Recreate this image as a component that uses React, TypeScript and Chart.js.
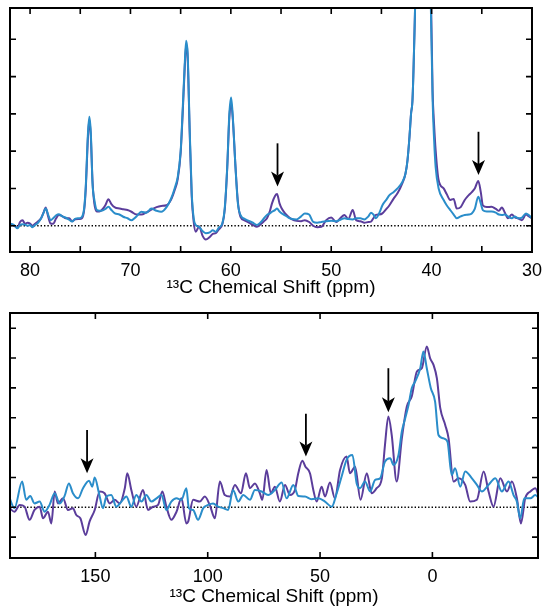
import React, { useEffect, useRef } from 'react';
import { Chart, registerables } from 'chart.js';

Chart.register(...registerables);

const FONT = '"Liberation Sans", Arial, Helvetica, sans-serif';
const PURPLE = '#5b3d9b';
const BLUE = '#2a8dca';
const AXIS_TITLE = '¹³C Chemical Shift (ppm)';

// ---------- top panel (82 – 30 ppm) ----------
const topPpm = [
  82.0, 81.6, 81.25, 81.0, 80.75, 80.5, 80.26, 80.0, 79.77, 79.5, 79.27, 78.9, 78.65, 78.45, 78.2, 77.96,
  77.7, 77.4, 77.14, 76.8, 76.48, 76.1, 75.82, 75.49, 75.1, 74.83, 74.6, 74.44, 74.25, 74.1, 73.95, 73.78,
  73.6, 73.35, 73.1, 72.86, 72.5, 72.2, 71.9, 71.55, 71.1, 70.72, 70.3, 69.9, 69.4, 68.91, 68.4, 67.92,
  67.4, 66.94, 66.4, 65.95, 65.6, 65.29, 65.0, 64.8, 64.6, 64.45, 64.3, 64.1, 63.9, 63.7, 63.5, 63.16,
  62.8, 62.5, 62.1, 61.8, 61.5, 61.2, 60.85, 60.6, 60.36, 60.15, 59.97, 59.8, 59.54, 59.3, 59.04, 58.6,
  58.2, 57.8, 57.4, 57.0, 56.7, 56.4, 56.1, 55.9, 55.6, 55.4, 55.15, 54.93, 54.6, 54.27, 53.9, 53.45,
  53.0, 52.63, 52.2, 51.8, 51.4, 50.98, 50.5, 50.0, 49.5, 49.1, 48.68, 48.3, 47.86, 47.52, 47.1, 46.7,
  46.3, 46.04, 45.8, 45.55, 45.2, 44.9, 44.5, 44.2, 43.8, 43.4, 42.9, 42.6, 42.4, 42.2, 42.05, 41.9,
  41.65, 41.4, 41.1, 40.85, 40.6, 40.3, 40.07, 39.9, 39.75, 39.6, 39.3, 38.8, 38.5, 38.14, 37.8, 37.5,
  37.1, 36.7, 36.3, 36.0, 35.7, 35.35, 35.1, 34.9, 34.5, 34.03, 33.6, 33.3, 33.0, 32.7, 32.4, 32.0,
  31.7, 31.4, 31.0, 30.6, 30.3, 30.0,
];
const topBlue = [
  0.06, 0.02, -0.07, 0.02, 0.04, 0.03, 0.0, 0.02, -0.04, 0.02, 0.06, 0.2, 0.35, 0.46, 0.3, 0.15,
  0.2, 0.28, 0.31, 0.25, 0.22, 0.16, 0.11, 0.19, 0.2, 0.24, 0.5, 1.13, 2.4, 2.92, 2.5, 1.13,
  0.7, 0.42, 0.4, 0.4, 0.45, 0.51, 0.42, 0.33, 0.3, 0.24, 0.2, 0.15, 0.25, 0.375, 0.35, 0.46,
  0.4, 0.375, 0.5, 0.73, 1.0, 1.31, 2.0, 3.1, 4.3, 4.96, 4.6, 2.6, 0.9, 0.2, 0.02, -0.03,
  -0.15, -0.2, -0.18, -0.12, -0.16, -0.05, 0.06, 0.5, 1.58, 3.0, 3.44, 2.9, 1.58, 0.6, 0.29, 0.18,
  0.13, 0.08, 0.02, 0.1, 0.2, 0.29, 0.33, 0.375, 0.42, 0.46, 0.38, 0.33, 0.28, 0.22, 0.18, 0.17,
  0.25, 0.33, 0.3, 0.1, 0.08, 0.1, 0.12, 0.13, 0.12, 0.16, 0.2, 0.18, 0.17, 0.2, 0.2, 0.17,
  0.25, 0.35, 0.3, 0.2, 0.35, 0.55, 0.7, 0.82, 0.9, 1.0, 1.18, 1.4, 1.76, 2.4, 3.0, 3.4,
  5.8, 9, 14, 18, 12, 7.5, 5.8, 3.37, 2.3, 1.58, 1.0, 0.69, 0.55, 0.42, 0.3, 0.2,
  0.25, 0.29, 0.3, 0.33, 0.45, 0.78, 0.6, 0.42, 0.38, 0.38, 0.35, 0.3, 0.29, 0.3, 0.25, 0.2,
  0.25, 0.2, 0.22, 0.33, 0.28, 0.2,
];
const topPurple = [
  0.05, 0.0, -0.05, 0.1, 0.15, 0.05, 0.08, 0.06, 0.0, 0.05, 0.1, 0.2, 0.36, 0.49, 0.25, 0.06,
  0.05, 0.2, 0.29, 0.26, 0.2, 0.2, 0.12, 0.17, 0.18, 0.2, 0.45, 1.05, 2.3, 2.85, 2.4, 1.2,
  0.6, 0.38, 0.38, 0.42, 0.55, 0.71, 0.58, 0.49, 0.46, 0.44, 0.42, 0.375, 0.3, 0.3, 0.36, 0.43,
  0.5, 0.53, 0.55, 0.7, 0.95, 1.25, 1.95, 3.0, 4.2, 4.85, 4.5, 2.5, 0.8, 0.1, -0.16, -0.02,
  -0.28, -0.37, -0.3, -0.22, -0.2, -0.1, 0.04, 0.45, 1.55, 2.9, 3.3, 2.85, 1.6, 0.65, 0.24, 0.14,
  0.08, 0.02, -0.03, 0.05, 0.12, 0.2, 0.4, 0.6, 0.8, 0.85, 0.6, 0.46, 0.33, 0.24, 0.17, 0.13,
  0.12, 0.15, 0.1, 0.0, -0.04, -0.03, 0.15, 0.22, 0.1, 0.2, 0.29, 0.18, 0.42, 0.15, 0.12, 0.08,
  0.1, 0.11, 0.2, 0.29, 0.3, 0.33, 0.45, 0.55, 0.72, 0.87, 1.15, 1.4, 1.76, 2.4, 3.0, 3.4,
  5.8, 9, 14, 18, 12.5, 8, 6.2, 3.6, 2.7, 2.03, 1.22, 1.0, 0.85, 0.69, 0.72, 0.46,
  0.5, 0.69, 0.82, 0.9, 1.0, 1.2, 0.9, 0.55, 0.5, 0.51, 0.45, 0.4, 0.49, 0.35, 0.2, 0.3,
  0.22, 0.2, 0.15, 0.3, 0.25, 0.2,
];
const topTicks = [80, 70, 60, 50, 40, 30];
const topArrowPpm = [55.35, 35.33];
const topArrowTail = [2.21, 2.52];
const topArrowTip = [1.05, 1.36];

// ---------- bottom panel (188 – -47 ppm) ----------
const botBluePpm = [
  188.2, 186.0, 182.6, 180.8, 179.0, 177.1, 174.8, 172.6, 170.4, 168.1, 165.9, 163.7, 161.8, 160.0, 157.7, 155.5,
  152.8, 151.4, 150.3, 148.4, 146.6, 145.1, 142.9, 140.7, 138.4, 136.2, 134.0, 131.8, 129.5, 127.3, 125.1, 122.8,
  120.6, 118.4, 116.2, 113.9, 111.7, 109.5, 108.4, 106.5, 104.3, 102.0, 99.8, 97.6, 95.3, 93.1, 90.9, 88.7,
  86.4, 84.2, 81.2, 79.0, 76.0, 73.1, 70.1, 67.1, 64.9, 61.9, 59.7, 56.7, 53.8, 50.8, 47.8, 44.8,
  42.6, 40.4, 38.2, 35.6, 33.7, 32.2, 30.0, 27.7, 25.5, 23.3, 21.1, 18.8, 17.3, 15.1, 13.6, 12.1,
  10.6, 9.2, 7.7, 5.4, 4.0, 2.5, 0.7, -1.2, -2.7, -4.9, -6.7, -8.6, -10.1, -12.4, -14.6, -17.6,
  -19.8, -22.0, -25.0, -28.0, -30.9, -33.9, -36.1, -37.6, -39.1, -40.9, -43.6, -45.8, -47.6,
];
const botBlue = [
  0.3, -0.03, 0.86, 0.25, 0.38, 0.13, 0.19, -0.15, 0.08, 0.47, 0.13, 0.38, 0.8, 0.47, 0.3, 0.64,
  0.89, 0.69, 1.0, 0.47, -0.03, 0.36, 0.41, 0.02, 0.19, 0.36, 0.02, 0.41, 0.19, 0.41, 0.19, 0.3,
  0.41, -0.09, 0.19, 0.3, 0.25, 0.64, -0.03, -0.09, -0.42, -0.03, 0.08, 0.13, 0.02, -0.03, -0.09, 0.58,
  0.19, 0.41, 0.25, 0.58, 0.53, 0.41, 0.58, 0.83, 0.3, 0.75, 0.38, 0.36, 0.27, 0.3, 0.19, 0.02,
  0.47, 1.03, 1.59, 1.75, 0.8, 0.64, 0.86, 0.53, 0.92, 0.97, 1.53, 1.64, 1.42, 1.75, 2.54, 2.98,
  3.43, 3.99, 4.21, 4.66, 5.22, 4.66, 3.99, 3.54, 2.42, 2.31, 2.2, 1.08, 1.31, 0.69, 1.2, 0.97,
  0.75, 0.53, 0.75, 0.97, 0.53, 0.86, 0.41, 0.19, -0.37, 0.3, 0.3, 0.41, 0.3,
];
const botPurplePpm = [
  188.2, 186.0, 183.7, 181.5, 179.3, 177.1, 174.8, 173.3, 171.1, 169.6, 168.1, 166.7, 164.4, 162.2, 160.0, 158.5,
  156.7, 154.3, 152.6, 150.3, 148.1, 145.9, 143.6, 141.4, 139.2, 136.9, 135.8, 134.0, 131.8, 128.8, 126.6, 124.3,
  122.1, 120.2, 118.4, 116.2, 113.9, 111.7, 109.5, 108.7, 106.5, 103.5, 101.3, 99.1, 96.8, 94.6, 92.4, 90.1,
  87.9, 85.2, 83.0, 81.2, 79.0, 76.8, 75.7, 73.8, 71.9, 70.1, 67.9, 65.6, 63.4, 61.2, 59.7, 57.9,
  56.5, 54.5, 53.0, 51.5, 49.3, 47.8, 45.6, 43.4, 41.1, 38.2, 36.7, 34.4, 32.0, 29.2, 27.0, 24.8,
  22.5, 21.1, 19.6, 18.1, 15.9, 13.6, 11.4, 9.2, 6.9, 4.7, 2.5, 1.0, -0.5, -2.0, -3.5, -5.7,
  -7.2, -9.4, -11.6, -14.6, -16.8, -19.8, -22.8, -25.0, -27.2, -30.2, -33.2, -35.4, -37.6, -39.4, -41.3, -43.6,
  -45.8, -47.6,
];
const botPurple = [
  -0.03, -0.15, 0.08, 0.02, -0.42, -0.09, 0.02, -0.37, -0.15, -0.54, 0.53, 0.13, 0.3, -0.09, -0.03, -0.26,
  -0.37, -0.93, -0.48, -0.09, 0.53, 0.47, 0.13, 0.25, 0.13, 0.64, 1.14, 0.58, 0.02, 0.58, -0.09, 0.02,
  0.08, 0.53, 0.02, -0.42, -0.15, 0.3, -0.54, -0.48, 0.25, 0.19, 0.36, 0.08, -0.37, 0.86, 0.41, 0.36,
  0.75, 0.47, 1.14, 0.64, 0.8, 0.47, 0.25, 1.25, 0.47, 0.69, 0.19, 0.75, 0.41, 0.58, 1.14, 1.56,
  1.36, 1.14, 0.58, 0.19, 0.69, 0.36, 0.83, 0.3, 1.25, 1.7, 1.14, 1.36, 0.25, 1.14, 0.47, 0.64,
  0.97, 2.09, 3.04, 2.42, 0.86, 2.31, 3.37, 3.71, 4.55, 4.66, 5.39, 4.99, 4.77, 4.32, 3.32, 2.76,
  2.31, 0.86, 0.97, 0.75, 0.19, 0.25, 1.2, 0.53, 0.02, 0.97, 0.53, 0.86, 0.3, -0.54, 0.3, 0.53,
  0.64, 0.3,
];
const botTicks = [150, 100, 50, 0];
const botArrowPpm = [153.7, 56.3, 19.6];
const botArrowTail = [2.59, 3.13, 4.66];
const botArrowTip = [1.14, 1.7, 3.18];

const toPoints = (xs: number[], ys: number[]) => xs.map((x, i) => ({ x, y: ys[i] }));

function makeFramePlugin(arrowPpm: number[], arrowTail: number[], arrowTip: number[]) {
  return {
    id: 'frame',
    beforeDatasetsDraw(chart: any) {
      const { ctx, chartArea: a, scales } = chart;
      const y0 = scales.y.getPixelForValue(0);
      ctx.save();
      ctx.strokeStyle = '#000';
      ctx.lineWidth = 1.4;
      ctx.setLineDash([1.4, 2]);
      ctx.beginPath();
      ctx.moveTo(a.left, y0);
      ctx.lineTo(a.right, y0);
      ctx.stroke();
      ctx.restore();
    },
    afterDraw(chart: any) {
      const { ctx, chartArea: a, scales } = chart;
      const x = scales.x;
      const y = scales.y;
      const L = 6;
      ctx.save();
      ctx.strokeStyle = '#000';
      ctx.lineWidth = 1.6;
      ctx.beginPath();
      x.ticks.forEach((t: any) => {
        const px = x.getPixelForValue(t.value);
        if (px < a.left + 2 || px > a.right - 2) return;
        ctx.moveTo(px, a.bottom);
        ctx.lineTo(px, a.bottom - L);
        ctx.moveTo(px, a.top);
        ctx.lineTo(px, a.top + L);
      });
      y.ticks.forEach((t: any) => {
        const py = y.getPixelForValue(t.value);
        if (py < a.top + 2 || py > a.bottom - 2) return;
        ctx.moveTo(a.left, py);
        ctx.lineTo(a.left + L, py);
        ctx.moveTo(a.right, py);
        ctx.lineTo(a.right - L, py);
      });
      ctx.stroke();
      ctx.lineWidth = 2;
      ctx.strokeRect(a.left, a.top, a.right - a.left, a.bottom - a.top);
      // arrows
      ctx.fillStyle = '#000';
      arrowPpm.forEach((p, i) => {
        const px = x.getPixelForValue(p);
        const tail = y.getPixelForValue(arrowTail[i]);
        const tip = y.getPixelForValue(arrowTip[i]);
        const hl = 15;
        const hw = 6.5;
        ctx.lineWidth = 1.8;
        ctx.beginPath();
        ctx.moveTo(px, tail);
        ctx.lineTo(px, tip - hl + 4);
        ctx.stroke();
        ctx.beginPath();
        ctx.moveTo(px, tip);
        ctx.lineTo(px - hw, tip - hl);
        ctx.lineTo(px, tip - hl + 4);
        ctx.lineTo(px + hw, tip - hl);
        ctx.closePath();
        ctx.fill();
      });
      ctx.restore();
    },
  };
}

function makeConfig(opts: any) {
  const {
    bluePts, purplePts, xMin, xMax, step, labelTicks, yMin, yMax,
    padRight, axisHeight, titlePad, plugin,
  } = opts;
  return {
    type: 'line',
    data: {
      datasets: [
        {
          data: bluePts,
          borderColor: BLUE,
          borderWidth: 2,
          pointRadius: 0,
          fill: false,
          cubicInterpolationMode: 'monotone',
        },
        {
          data: purplePts,
          borderColor: PURPLE,
          borderWidth: 2,
          pointRadius: 0,
          fill: false,
          cubicInterpolationMode: 'monotone',
        },
      ],
    },
    options: {
      responsive: false,
      animation: false,
      devicePixelRatio: 1,
      layout: { padding: { left: 10, right: padRight, top: 8, bottom: 0 } },
      plugins: { legend: { display: false }, tooltip: { enabled: false } },
      scales: {
        x: {
          type: 'linear',
          reverse: true,
          min: xMin,
          max: xMax,
          grid: { display: false, drawTicks: false },
          border: { display: false },
          ticks: {
            stepSize: step,
            includeBounds: false,
            autoSkip: false,
            maxRotation: 0,
            padding: 8,
            color: '#000',
            font: { family: FONT, size: 18 },
            callback: (v: number) => (labelTicks.includes(v) ? String(v) : ''),
          },
          title: {
            display: true,
            text: AXIS_TITLE,
            color: '#000',
            font: { family: FONT, size: 19 },
            padding: { top: 0, bottom: titlePad },
          },
          afterFit: (s: any) => {
            s.height = axisHeight;
          },
        },
        y: {
          type: 'linear',
          display: false,
          min: yMin,
          max: yMax,
          ticks: { stepSize: 1 },
        },
      },
    },
    plugins: [plugin],
  };
}

export default function App() {
  const topRef = useRef<HTMLCanvasElement>(null);
  const botRef = useRef<HTMLCanvasElement>(null);

  useEffect(() => {
    Chart.defaults.font.family = FONT;
    Chart.defaults.color = '#000';
    const c1 = new Chart(
      topRef.current as HTMLCanvasElement,
      makeConfig({
        bluePts: toPoints(topPpm, topBlue),
        purplePts: toPoints(topPpm, topPurple),
        xMin: 30,
        xMax: 82,
        step: 5,
        labelTicks: topTicks,
        yMin: -0.705,
        yMax: 5.84,
        padRight: 13,
        axisHeight: 53,
        titlePad: 6,
        plugin: makeFramePlugin(topArrowPpm, topArrowTail, topArrowTip),
      }) as any
    );
    const c2 = new Chart(
      botRef.current as HTMLCanvasElement,
      makeConfig({
        bluePts: toPoints(botBluePpm, botBlue),
        purplePts: toPoints(botPurplePpm, botPurple),
        xMin: -47,
        xMax: 188,
        step: 50,
        labelTicks: botTicks,
        yMin: -1.7,
        yMax: 6.51,
        padRight: 12,
        axisHeight: 53,
        titlePad: 3,
        plugin: makeFramePlugin(botArrowPpm, botArrowTail, botArrowTip),
      }) as any
    );
    return () => {
      c1.destroy();
      c2.destroy();
    };
  }, []);

  return (
    <div style={{ position: 'fixed', left: 0, top: 0, width: 550, height: 607, background: '#fff', overflow: 'hidden' }}>
      <canvas
        ref={topRef}
        width={550}
        height={305}
        style={{ position: 'absolute', left: 0, top: 0, width: 550, height: 305, display: 'block' }}
      />
      <canvas
        ref={botRef}
        width={550}
        height={306}
        style={{ position: 'absolute', left: 0, top: 305, width: 550, height: 306, display: 'block' }}
      />
    </div>
  );
}
